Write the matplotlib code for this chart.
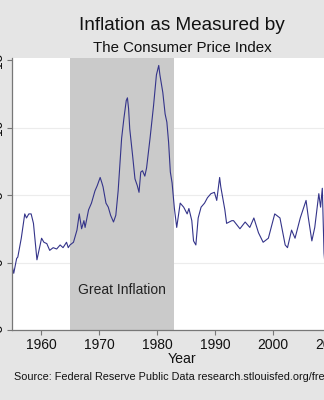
import matplotlib
matplotlib.use("Agg")
import matplotlib.pyplot as plt

# Year-over-year CPI inflation, percent
years = [1955.0, 1955.3, 1955.8, 1956.0, 1956.6, 1957.2, 1957.5, 1957.9, 1958.3, 1958.7,
         1959.3, 1960.1, 1960.5, 1961.0, 1961.5, 1962.1, 1962.7, 1963.3, 1963.8, 1964.4,
         1964.7, 1965.0, 1965.6, 1966.2, 1966.6, 1967.0, 1967.4, 1967.6, 1968.2, 1968.7,
         1969.3, 1969.7, 1970.2, 1970.5, 1970.7, 1971.2, 1971.6, 1972.0, 1972.5, 1972.9,
         1973.3, 1973.9, 1974.3, 1974.7, 1974.9, 1975.1, 1975.3, 1975.8, 1976.2, 1976.6,
         1976.9, 1977.2, 1977.5, 1977.9, 1978.2, 1978.8, 1979.4, 1979.9, 1980.3, 1980.5,
         1981.0, 1981.4, 1981.7, 1982.0, 1982.3, 1982.6, 1983.0, 1983.4, 1984.0, 1984.6,
         1985.2, 1985.5, 1986.0, 1986.3, 1986.7, 1987.1, 1987.6, 1988.2, 1988.7, 1989.3,
         1989.9, 1990.3, 1990.8, 1991.0, 1991.7, 1992.0, 1992.9, 1993.2, 1994.3, 1995.2,
         1996.0, 1996.7, 1997.5, 1998.3, 1999.2, 2000.3, 2001.2, 2002.1, 2002.5, 2003.2,
         2003.8, 2004.7, 2005.7, 2006.1, 2006.7, 2007.2, 2007.9, 2008.2, 2008.5, 2008.8,
         2009.2, 2009.5]
inflation = [-0.2, -0.8, 0.3, 0.4, 1.8, 3.6, 3.3, 3.6, 3.6, 2.9,
             0.2, 1.8, 1.5, 1.4, 0.9, 1.1, 1.0, 1.3, 1.1, 1.5,
             1.1, 1.3, 1.5, 2.4, 3.6, 2.5, 3.1, 2.6, 3.9, 4.4,
             5.3, 5.7, 6.3, 5.9, 5.6, 4.4, 4.1, 3.5, 3.0, 3.5,
             5.3, 9.2, 10.7, 12.0, 12.2, 11.4, 9.9, 7.9, 6.2, 5.7,
             5.2, 6.7, 6.8, 6.4, 7.0, 9.2, 11.6, 13.9, 14.6, 13.9,
             12.6, 11.0, 10.4, 8.9, 6.7, 5.9, 4.0, 2.6, 4.4, 4.1,
             3.6, 4.0, 3.1, 1.6, 1.3, 3.3, 4.1, 4.4, 4.8, 5.1,
             5.2, 4.6, 6.3, 5.6, 3.9, 2.9, 3.1, 3.1, 2.5, 3.0,
             2.6, 3.3, 2.2, 1.5, 1.8, 3.6, 3.3, 1.3, 1.1, 2.4,
             1.8, 3.3, 4.6, 3.3, 1.6, 2.6, 5.1, 4.1, 5.5, 0.7,
             -1.5, -2.0]

yticks = [-5, 0, 5, 10, 15]
xticks = [1960, 1970, 1980, 1990, 2000, 2010]
era_start, era_end = 1965, 1983

FONT = "Liberation Sans"
plt.rcParams["font.family"] = [FONT, "DejaVu Sans"]

bg = "#e5e5e5"
fig = plt.figure(figsize=(3.24, 4.0), dpi=100, facecolor=bg)

W, H = 324, 400
left_px, right_px = 12, 12 + 58 * 5.8
top_px, bot_px = 58, 330
ax = fig.add_axes([left_px / W, 1 - bot_px / H,
                   (right_px - left_px) / W, (bot_px - top_px) / H])
ax.set_facecolor("white")
ax.set_xlim(1955, 2013)
ax.set_ylim(-5, 15.15)

# horizontal grid
for v in yticks[1:-1]:
    ax.axhline(v, color="#ececec", lw=0.8, zorder=0)

ax.axvspan(era_start, era_end, color="#cacaca", lw=0, zorder=1)
ax.text((era_start + era_end) / 2, -2.0, "Great Inflation", ha="center", va="center",
        fontsize=10, color="#222222", zorder=3)

ax.plot(years, inflation, color="#34348a", lw=0.8, zorder=2)

for s in ["top", "right"]:
    ax.spines[s].set_visible(False)
for s in ["left", "bottom"]:
    ax.spines[s].set_color("#777777")
    ax.spines[s].set_linewidth(0.9)

ax.set_yticks(yticks)
ax.set_yticklabels([str(v) for v in yticks], rotation=90, va="center")
ax.set_xticks(xticks)
ax.tick_params(axis="both", direction="out", length=3.5, width=0.8, color="#777777",
               labelsize=10, labelcolor="#111111")
ax.tick_params(axis="y", pad=1.5)
ax.tick_params(axis="x", pad=2)

fig.text(182 / W, 1 - 26 / H, "Inflation as Measured by", ha="center", va="center",
         fontsize=13.7, color="#111111")
fig.text(182 / W, 1 - 48 / H, "The Consumer Price Index", ha="center", va="center",
         fontsize=10.8, color="#111111")
fig.text(182 / W, 1 - 359 / H, "Year", ha="center", va="center",
         fontsize=10.2, color="#111111")
fig.text(14 / W, 1 - 377 / H,
         "Source: Federal Reserve Public Data research.stlouisfed.org/fred2",
         ha="left", va="center", fontsize=7.85, color="#111111")

fig.savefig("out.png", dpi=100, facecolor=bg)
